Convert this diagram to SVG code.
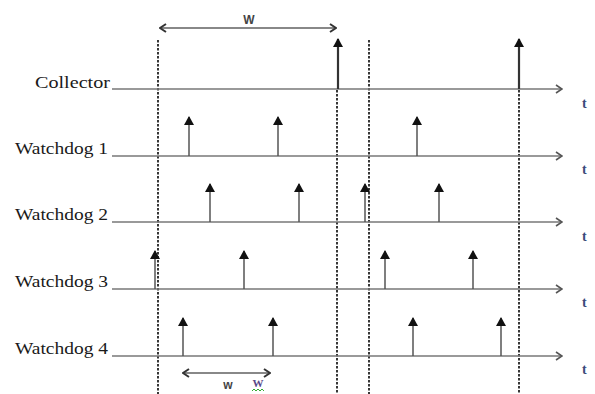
<svg xmlns="http://www.w3.org/2000/svg" width="595" height="394" viewBox="0 0 595 394">
<style>
.lbl{font-family:"Liberation Serif","Times New Roman",serif;font-size:16.5px;fill:#1a1a1a}
.t{font-family:"Liberation Serif",serif;font-size:14px;font-weight:bold;fill:#3a4a7a}
.w{font-family:"Liberation Sans",Arial,sans-serif;font-size:12px;font-weight:bold;fill:#444}
.axis{stroke:#777;stroke-width:1.6;fill:none}
.dash{stroke:#222;stroke-width:1.8;stroke-dasharray:2.5,1.5;fill:none}
.ev{stroke:#555;stroke-width:1.5;fill:none}
.col{stroke:#333;stroke-width:2.2;fill:none}
.dim{stroke:#888;stroke-width:2;fill:none}
</style>
<defs>
<marker id="ax" markerWidth="8" markerHeight="10" refX="6" refY="5" orient="auto" markerUnits="userSpaceOnUse">
<path d="M1,1 L7,5 L1,9" fill="none" stroke="#555" stroke-width="1.6"/>
</marker>
<marker id="up" markerWidth="10" markerHeight="10" refX="8" refY="5" orient="auto" markerUnits="userSpaceOnUse">
<path d="M0,0 L9,5 L0,10 Z" fill="#111"/>
</marker>
<marker id="dh" markerWidth="8" markerHeight="10" refX="6" refY="5" orient="auto-start-reverse" markerUnits="userSpaceOnUse">
<path d="M1,1 L7,5 L1,9" fill="none" stroke="#333" stroke-width="2"/>
</marker>
</defs>
<rect width="595" height="394" fill="#fff"/>

<g id="guides">
<line class="dash" x1="158" y1="40" x2="158" y2="394"/>
<line class="dash" x1="337" y1="90" x2="337" y2="394"/>
<line class="dash" x1="369" y1="40" x2="369" y2="394"/>
<line class="dash" x1="519" y1="90" x2="519" y2="394"/>
</g>

<g id="collector">
<text class="lbl" x="35" y="88" textLength="75" lengthAdjust="spacingAndGlyphs">Collector</text>
<line class="axis" x1="112" y1="89" x2="561" y2="89" marker-end="url(#ax)"/>
<line class="col" x1="338" y1="89" x2="338" y2="39" marker-end="url(#up)"/>
<line class="col" x1="519" y1="89" x2="519" y2="39" marker-end="url(#up)"/>
<text class="t" x="582" y="108">t</text>
</g>

<g id="watchdog1">
<text class="lbl" x="15" y="154" textLength="93" lengthAdjust="spacingAndGlyphs">Watchdog 1</text>
<line class="axis" x1="112" y1="156" x2="561" y2="156" marker-end="url(#ax)"/>
<line class="ev" x1="189" y1="156" x2="189" y2="117" marker-end="url(#up)"/>
<line class="ev" x1="278" y1="156" x2="278" y2="117" marker-end="url(#up)"/>
<line class="ev" x1="417" y1="156" x2="417" y2="117" marker-end="url(#up)"/>
<text class="t" x="582" y="174">t</text>
</g>

<g id="watchdog2">
<text class="lbl" x="15" y="220" textLength="93" lengthAdjust="spacingAndGlyphs">Watchdog 2</text>
<line class="axis" x1="112" y1="222" x2="561" y2="222" marker-end="url(#ax)"/>
<line class="ev" x1="210" y1="222" x2="210" y2="184" marker-end="url(#up)"/>
<line class="ev" x1="299" y1="222" x2="299" y2="184" marker-end="url(#up)"/>
<line class="ev" x1="365" y1="222" x2="365" y2="184" marker-end="url(#up)"/>
<line class="ev" x1="439" y1="222" x2="439" y2="184" marker-end="url(#up)"/>
<text class="t" x="582" y="241">t</text>
</g>

<g id="watchdog3">
<text class="lbl" x="15" y="287" textLength="93" lengthAdjust="spacingAndGlyphs">Watchdog 3</text>
<line class="axis" x1="112" y1="289" x2="561" y2="289" marker-end="url(#ax)"/>
<line class="ev" x1="155" y1="289" x2="155" y2="251" marker-end="url(#up)"/>
<line class="ev" x1="244" y1="289" x2="244" y2="251" marker-end="url(#up)"/>
<line class="ev" x1="385" y1="289" x2="385" y2="251" marker-end="url(#up)"/>
<line class="ev" x1="473" y1="289" x2="473" y2="251" marker-end="url(#up)"/>
<text class="t" x="582" y="307">t</text>
</g>

<g id="watchdog4">
<text class="lbl" x="15" y="354" textLength="93" lengthAdjust="spacingAndGlyphs">Watchdog 4</text>
<line class="axis" x1="112" y1="356" x2="561" y2="356" marker-end="url(#ax)"/>
<line class="ev" x1="183" y1="356" x2="183" y2="318" marker-end="url(#up)"/>
<line class="ev" x1="273" y1="356" x2="273" y2="318" marker-end="url(#up)"/>
<line class="ev" x1="413" y1="356" x2="413" y2="318" marker-end="url(#up)"/>
<line class="ev" x1="501" y1="356" x2="501" y2="318" marker-end="url(#up)"/>
<text class="t" x="582" y="374">t</text>
</g>

<g id="connectors">
<line class="dim" x1="161" y1="28" x2="335" y2="28" marker-start="url(#dh)" marker-end="url(#dh)"/>
<line class="dim" x1="184" y1="373" x2="269" y2="373" marker-start="url(#dh)" marker-end="url(#dh)"/>
</g>

<g id="labels">
<text class="w" x="249" y="24" text-anchor="middle" font-size="15">W</text>
<text class="w" x="228" y="389" text-anchor="middle">w</text>
<text x="258" y="387" text-anchor="middle" font-family="Liberation Serif,serif" font-size="11" font-weight="bold" fill="#5a4a8a">W</text>
<polyline points="252,391 254,389 256,391 258,389 260,391 262,389 264,391" fill="none" stroke="#3a3" stroke-width="1"/>
</g>
</svg>
